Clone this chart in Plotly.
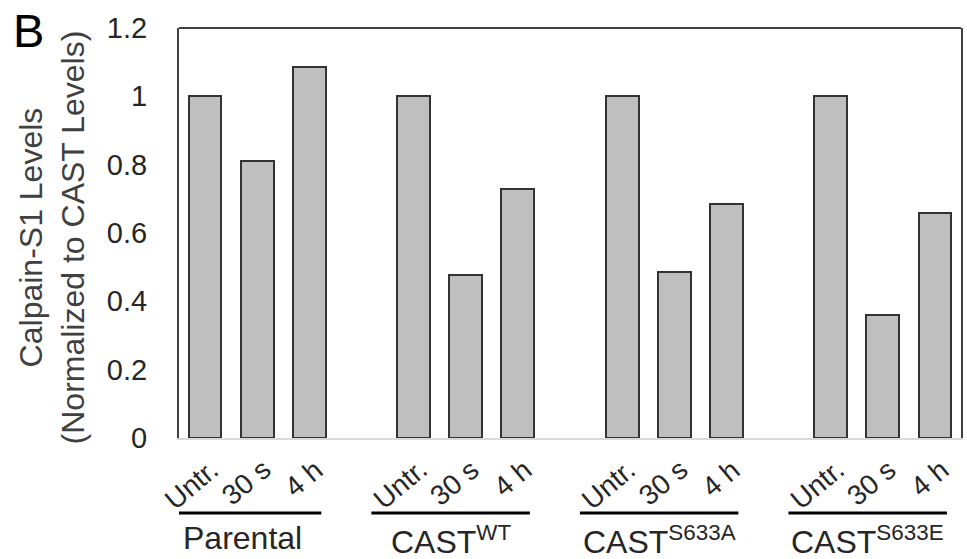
import plotly.graph_objects as go

# ---- data ----
groups = ["Parental", "CAST<sup>WT</sup>", "CAST<sup>S633A</sup>", "CAST<sup>S633E</sup>"]
conditions = ["Untr.", "30 s", "4 h"]
values = {
    "Parental": [1.0, 0.81, 1.085],
    "CAST<sup>WT</sup>": [1.0, 0.476, 0.728],
    "CAST<sup>S633A</sup>": [1.0, 0.487, 0.684],
    "CAST<sup>S633E</sup>": [1.0, 0.36, 0.66],
}
y_ticks = [0, 0.2, 0.4, 0.6, 0.8, 1.0, 1.2]
y_ticklabels = ["0", "0.2", "0.4", "0.6", "0.8", "1", "1.2"]

FONT = "Liberation Sans, Arial, sans-serif"
TXT = "#262626"

xs, ys, labs = [], [], []
group_mid = []
for gi, g in enumerate(groups):
    for ci, c in enumerate(conditions):
        xs.append(gi * 4 + ci)
        ys.append(values[g][ci])
        labs.append(c)
    group_mid.append(gi * 4 + 1)

fig = go.Figure()
fig.add_trace(go.Bar(
    x=xs, y=ys, width=0.63,
    marker=dict(color="#bfbfbf", line=dict(color="#333333", width=2)),
    showlegend=False, hoverinfo="skip",
))

annotations = []
# rotated condition labels
for x, t in zip(xs, labs):
    annotations.append(dict(
        x=x, y=0, xref="x", yref="paper", text=t, showarrow=False,
        textangle=-40, xanchor="right", yanchor="top", xshift=22, yshift=-13,
        font=dict(family=FONT, size=28, color=TXT),
    ))

shapes = []
for m, g in zip(group_mid, groups):
    x0 = m - 1.81
    x1 = m + 1.23
    shapes.append(dict(type="line", xref="x", yref="paper", x0=x0, x1=x1,
                       y0=-0.183, y1=-0.183, line=dict(color="#000000", width=3)))
    annotations.append(dict(
        x=(x0 + x1) / 2, y=-0.183, xref="x", yref="paper", text=g, showarrow=False,
        xanchor="center", yanchor="top", yshift=-5,
        font=dict(family=FONT, size=32, color=TXT),
    ))

# top frame line
shapes.append(dict(type="line", xref="paper", yref="paper", x0=0, x1=1, y0=1, y1=1,
                   line=dict(color="#404040", width=2)))

# y title
annotations.append(dict(
    x=-0.162, y=0.49, xref="paper", yref="paper",
    text="Calpain-S1 Levels<br>(Normalized to CAST Levels)",
    showarrow=False, textangle=-90, xanchor="center", yanchor="middle",
    font=dict(family=FONT, size=32, color="#404040"),
))
# panel letter
annotations.append(dict(
    x=-0.215, y=1.0, xref="paper", yref="paper", text="B", showarrow=False,
    xanchor="left", yanchor="middle", yshift=-2,
    font=dict(family=FONT, size=47, color="#000000"),
))

fig.update_layout(
    width=967, height=559,
    margin=dict(l=179, r=4, t=28, b=121),
    paper_bgcolor="white", plot_bgcolor="white",
    bargap=0,
    annotations=annotations, shapes=shapes,
    xaxis=dict(range=[-0.5, 14.5], showticklabels=False, ticks="",
               showgrid=False, zeroline=False, showline=True,
               linecolor="#d9d9d9", linewidth=2),
    yaxis=dict(range=[0, 1.2], tickvals=y_ticks, ticktext=y_ticklabels,
               ticks="", ticklabelstandoff=24, showgrid=False, zeroline=False,
               showline=True, mirror=True, linecolor="#404040", linewidth=2,
               tickfont=dict(family=FONT, size=29, color=TXT)),
)

fig.write_html(
    "out.html",
    config={"displayModeBar": False},
    post_script="document.body.style.margin='0';document.body.style.overflow='hidden';",
)
